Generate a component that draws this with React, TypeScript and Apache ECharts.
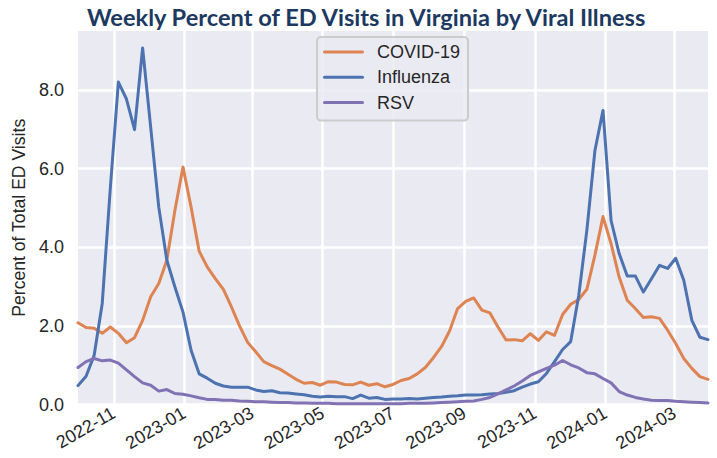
import React, { useEffect, useRef } from "react";
import * as echarts from "echarts";

const TITLE = "Weekly Percent of ED Visits in Virginia by Viral Illness";
const Y_LABEL = "Percent of Total ED Visits";
const FIRST_WEEK = "2022-10-01";
const X_TICK_LABELS = ["2022-11", "2023-01", "2023-03", "2023-05", "2023-07", "2023-09", "2023-11", "2024-01", "2024-03"];
const Y_TICKS = [0, 2, 4, 6, 8];
const SERIES_NAMES = ["COVID-19", "Influenza", "RSV"];

const COVID = [
  2.08, 1.96, 1.94, 1.81, 1.97, 1.81, 1.57, 1.70, 2.14, 2.74,
  3.08, 3.67, 4.94, 6.04, 5.02, 3.90, 3.50, 3.20, 2.93, 2.48,
  2.00, 1.58, 1.34, 1.09, 0.99, 0.90, 0.77, 0.64, 0.54, 0.56,
  0.49, 0.58, 0.57, 0.51, 0.50, 0.57, 0.49, 0.53, 0.45, 0.51,
  0.61, 0.66, 0.78, 0.94, 1.19, 1.47, 1.87, 2.44, 2.62, 2.71,
  2.40, 2.33, 1.97, 1.64, 1.65, 1.62, 1.80, 1.63, 1.85, 1.76,
  2.29, 2.55, 2.67, 2.93, 3.80, 4.78, 4.09, 3.24, 2.65, 2.44,
  2.21, 2.23, 2.19, 1.89, 1.55, 1.17, 0.92, 0.71, 0.64,
];

const INFLUENZA = [
  0.48, 0.72, 1.25, 2.57, 5.50, 8.20, 7.77, 6.99, 9.07, 7.05,
  5.02, 3.67, 2.99, 2.35, 1.38, 0.78, 0.67, 0.54, 0.47, 0.44,
  0.44, 0.44, 0.37, 0.33, 0.35, 0.30, 0.29, 0.27, 0.25, 0.21,
  0.19, 0.21, 0.20, 0.20, 0.15, 0.24, 0.16, 0.18, 0.13, 0.14,
  0.14, 0.15, 0.14, 0.16, 0.18, 0.19, 0.21, 0.22, 0.24, 0.24,
  0.25, 0.27, 0.28, 0.31, 0.35, 0.44, 0.52, 0.58, 0.79, 1.09,
  1.40, 1.60, 2.78, 4.43, 6.46, 7.48, 4.68, 3.84, 3.27, 3.27,
  2.86, 3.20, 3.54, 3.46, 3.72, 3.16, 2.14, 1.71, 1.65,
];

const RSV = [
  0.94, 1.09, 1.17, 1.11, 1.13, 1.05, 0.88, 0.71, 0.55, 0.49,
  0.34, 0.38, 0.28, 0.26, 0.22, 0.17, 0.13, 0.13, 0.11, 0.11,
  0.09, 0.08, 0.07, 0.07, 0.06, 0.05, 0.05, 0.04, 0.04, 0.03,
  0.03, 0.03, 0.02, 0.02, 0.02, 0.02, 0.02, 0.02, 0.02, 0.02,
  0.02, 0.03, 0.03, 0.03, 0.04, 0.05, 0.06, 0.07, 0.08, 0.09,
  0.13, 0.18, 0.27, 0.37, 0.47, 0.60, 0.74, 0.83, 0.92, 1.00,
  1.12, 1.01, 0.93, 0.81, 0.78, 0.66, 0.55, 0.33, 0.24, 0.18,
  0.14, 0.11, 0.10, 0.10, 0.08, 0.07, 0.06, 0.05, 0.04,
];

const COLORS = ["#dd8452", "#4c72b0", "#8172b3"];
const WEEK_MS = 7 * 24 * 3600 * 1000;

function parseDay(s: string): number {
  const [y, m, d] = s.split("-").map(Number);
  return Date.UTC(y, m - 1, d || 1);
}

const pad = (n: number) => (n < 10 ? "0" + n : "" + n);
const fmtMonth = (v: number) => {
  const d = new Date(v);
  return d.getUTCFullYear() + "-" + pad(d.getUTCMonth() + 1);
};

export default function App() {
  const ref = useRef<HTMLDivElement>(null);
  useEffect(() => {
    if (!ref.current) return;
    const chart = echarts.init(ref.current, null, { renderer: "svg" });
    const start = parseDay(FIRST_WEEK);
    const weeks = COVID.map((_, i) => start + i * WEEK_MS);
    const tickTs = X_TICK_LABELS.map(parseDay);
    const all = [COVID, INFLUENZA, RSV];
    const font = "'Liberation Sans', Arial, sans-serif";

    chart.setOption({
      animation: false,
      backgroundColor: "#ffffff",
      title: {
        text: TITLE,
        left: 82,
        top: 0,
        textStyle: {
          fontFamily: "Lato, sans-serif",
          fontWeight: "bold",
          fontSize: 23.6,
          color: "#1c3961",
        },
      },
      legend: {
        data: SERIES_NAMES,
        orient: "vertical",
        left: 317,
        top: 37,
        icon: "path://M1.5,0 H39.5 A1.5,1.5 0 0 1 39.5,3 H1.5 A1.5,1.5 0 0 1 1.5,0 Z",
        itemWidth: 41,
        itemHeight: 18,
        itemGap: 7.3,
        padding: [6, 8, 9, 6],
        backgroundColor: "rgba(234,234,242,0.85)",
        borderColor: "#cccccc",
        borderWidth: 2,
        borderRadius: 4,
        textStyle: {
          fontFamily: font,
          fontSize: 18,
          color: "#262626",
          padding: [0, 0, 0, 8],
        },
      },
      grid: {
        left: 78,
        right: 9,
        top: 31,
        bottom: 53.5,
        show: true,
        backgroundColor: "#eaeaf2",
        borderWidth: 0,
        containLabel: false,
        outerBoundsMode: "none",
      },
      xAxis: {
        type: "value",
        min: weeks[0],
        max: weeks[weeks.length - 1],
        axisLine: { show: false },
        axisTick: { show: false, customValues: tickTs },
        axisLabel: {
          customValues: tickTs,
          formatter: (v: number) => fmtMonth(v),
          rotate: 30,
          fontSize: 18,
          fontFamily: font,
          color: "#262626",
          margin: 7,
          hideOverlap: false,
        },
        splitLine: { show: true, lineStyle: { color: "#ffffff", width: 2.5 } },
      },
      yAxis: {
        type: "value",
        min: 0,
        max: 9.5,
        interval: 2,
        name: Y_LABEL,
        nameLocation: "middle",
        nameGap: 49,
        nameTextStyle: { fontFamily: font, fontSize: 17.6, color: "#262626" },
        axisLine: { show: false },
        axisTick: { show: false, customValues: Y_TICKS },
        axisLabel: {
          customValues: Y_TICKS,
          formatter: (v: number) => v.toFixed(1),
          fontSize: 18,
          fontFamily: font,
          color: "#262626",
          margin: 14,
        },
        splitLine: { show: true, lineStyle: { color: "#ffffff", width: 2.5 } },
      },
      series: SERIES_NAMES.map((name, k) => ({
        name,
        type: "line",
        symbol: "none",
        showSymbol: false,
        color: COLORS[k],
        lineStyle: { width: 3, color: COLORS[k], cap: "round", join: "round" },
        data: weeks.map((t, i) => [t, all[k][i]]),
      })),
    });
    return () => chart.dispose();
  }, []);
  return (
    <div
      ref={ref}
      style={{ position: "fixed", left: 0, top: 0, width: 717, height: 458, background: "#fff" }}
    />
  );
}
